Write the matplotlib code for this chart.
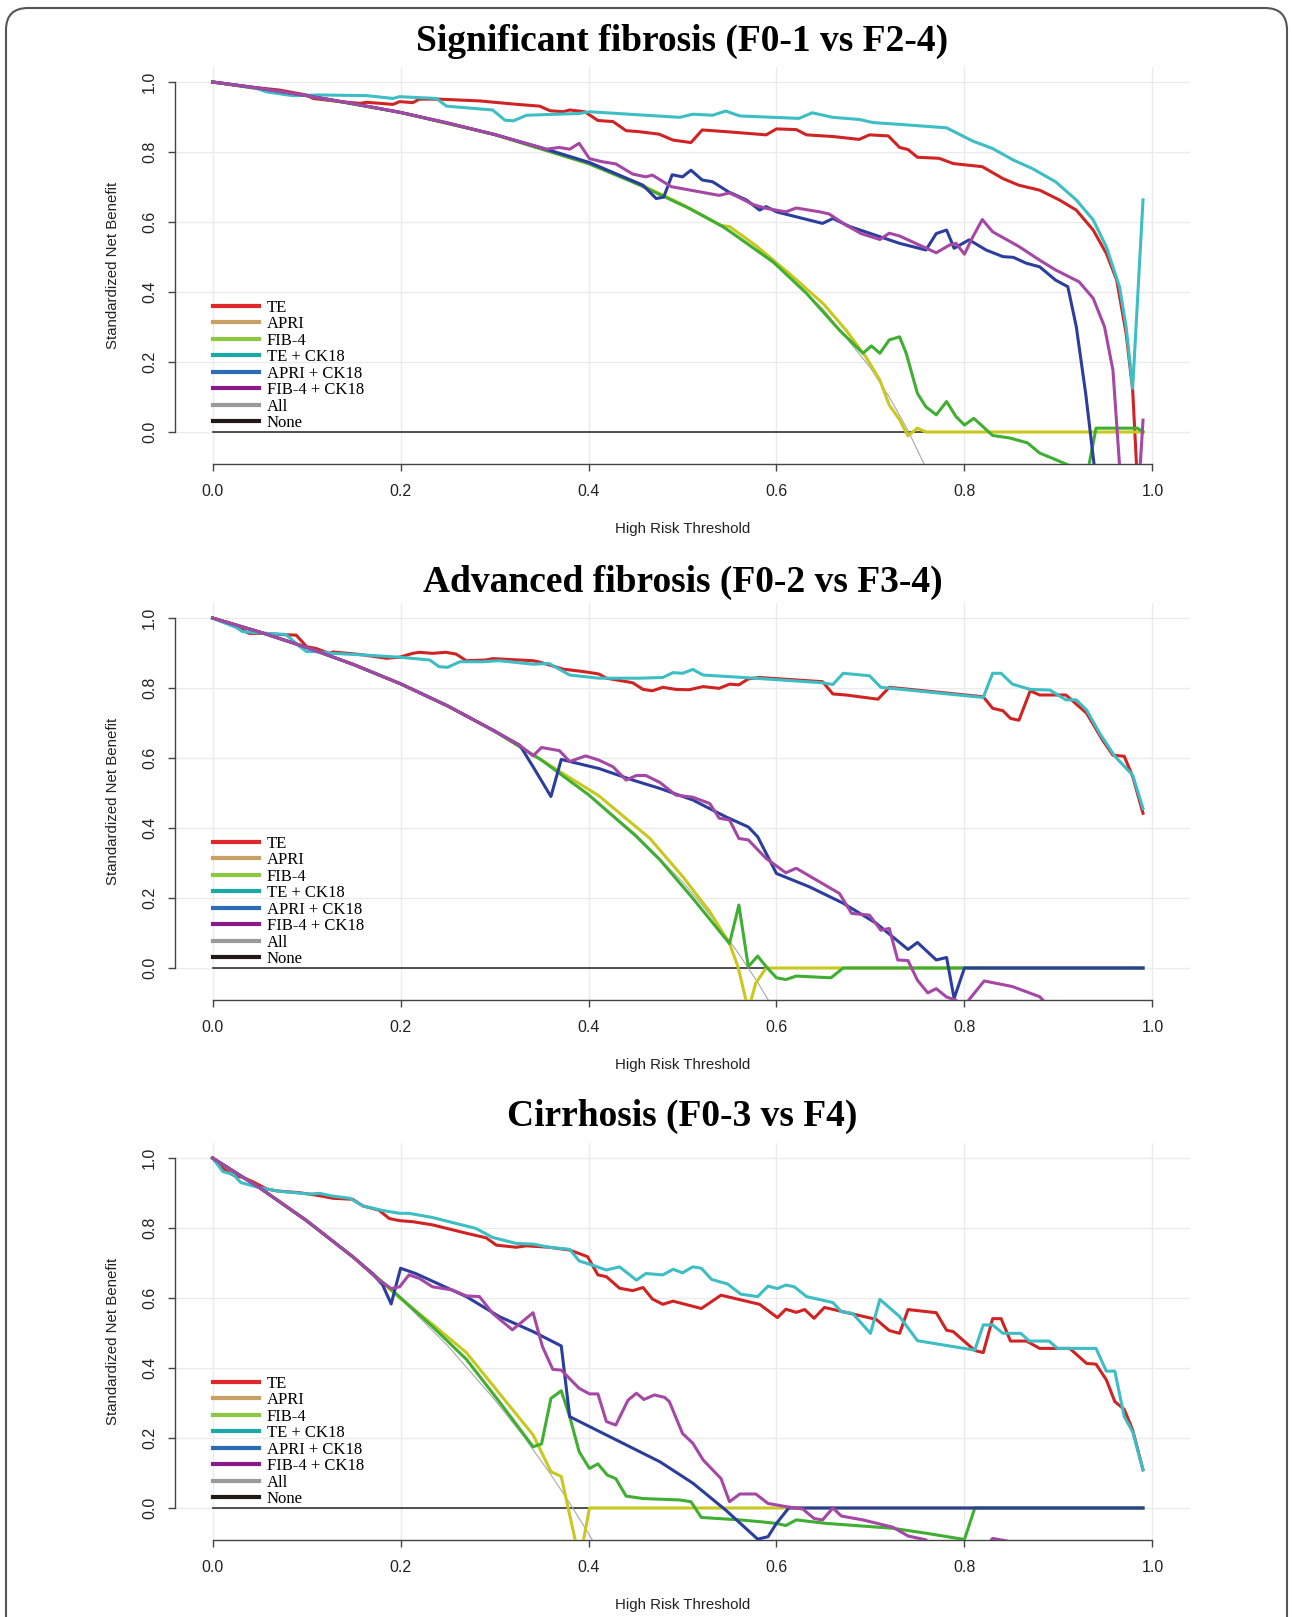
import matplotlib
matplotlib.use("Agg")
import matplotlib.pyplot as plt
from matplotlib.lines import Line2D
from matplotlib.patches import FancyBboxPatch
from matplotlib.transforms import IdentityTransform
from matplotlib.font_manager import FontProperties

# ---------------- DATA ----------------
titles = ["Significant fibrosis (F0-1 vs F2-4)",
          "Advanced fibrosis (F0-2 vs F3-4)",
          "Cirrhosis (F0-3 vs F4)"]
series_names = ["TE", "APRI", "FIB-4", "TE + CK18", "APRI + CK18", "FIB-4 + CK18", "All", "None"]
tick_vals = [0.0, 0.2, 0.4, 0.6, 0.8, 1.0]
tick_labels = ["0.0", "0.2", "0.4", "0.6", "0.8", "1.0"]
none_x = [0.0, 0.99]
none_y = [0.0, 0.0]

# Panel 1
p1_all_x = [0, 0.05, 0.1, 0.15, 0.2, 0.25, 0.3, 0.35, 0.4, 0.45, 0.5, 0.55, 0.6, 0.65, 0.7, 0.72, 0.74, 0.76]
p1_all_y = [1, 0.982, 0.961, 0.938, 0.913, 0.883, 0.85, 0.812, 0.767, 0.714, 0.65, 0.572, 0.475, 0.35, 0.183, 0.10, 0.004, -0.108]
p1_te_x = [0, 0.02, 0.046, 0.071, 0.0996, 0.107, 0.135, 0.157, 0.164, 0.192, 0.199, 0.213, 0.220, 0.241, 0.284, 0.32, 0.348, 0.359, 0.373, 0.38, 0.396, 0.41, 0.426, 0.44, 0.454, 0.475, 0.490, 0.509, 0.521, 0.547, 0.589, 0.600, 0.621, 0.632, 0.661, 0.688, 0.699, 0.719, 0.731, 0.740, 0.750, 0.773, 0.788, 0.819, 0.841, 0.858, 0.880, 0.901, 0.919, 0.937, 0.951, 0.962, 0.972, 0.979, 0.983, 0.99]
p1_te_y = [1.0, 0.993, 0.984, 0.977, 0.963, 0.953, 0.944, 0.939, 0.942, 0.936, 0.944, 0.941, 0.951, 0.951, 0.946, 0.937, 0.931, 0.918, 0.915, 0.920, 0.915, 0.89, 0.887, 0.861, 0.858, 0.851, 0.834, 0.827, 0.863, 0.858, 0.849, 0.866, 0.864, 0.849, 0.844, 0.836, 0.849, 0.846, 0.813, 0.807, 0.785, 0.782, 0.767, 0.758, 0.724, 0.705, 0.691, 0.663, 0.634, 0.577, 0.510, 0.434, 0.282, 0.120, -0.09, -0.5]
p1_apri_x = [0, 0.1, 0.2, 0.3, 0.4, 0.45, 0.5, 0.541, 0.550, 0.578, 0.614, 0.650, 0.674, 0.695, 0.710, 0.720, 0.731, 0.740, 0.750, 0.759, 0.99]
p1_apri_y = [1.0, 0.961, 0.913, 0.85, 0.767, 0.714, 0.65, 0.590, 0.587, 0.533, 0.452, 0.366, 0.291, 0.215, 0.148, 0.077, 0.035, -0.011, 0.011, 0.0, 0.0]
p1_fib_x = [0, 0.1, 0.2, 0.3, 0.4, 0.454, 0.507, 0.543, 0.596, 0.632, 0.667, 0.692, 0.701, 0.710, 0.720, 0.731, 0.738, 0.750, 0.759, 0.770, 0.781, 0.791, 0.800, 0.810, 0.830, 0.848, 0.867, 0.880, 0.897, 0.911, 0.92, 0.93, 0.94, 0.984, 0.99]
p1_fib_y = [1.0, 0.961, 0.913, 0.85, 0.767, 0.706, 0.639, 0.587, 0.487, 0.396, 0.291, 0.225, 0.246, 0.225, 0.263, 0.272, 0.225, 0.110, 0.072, 0.049, 0.087, 0.044, 0.020, 0.039, -0.010, -0.017, -0.031, -0.060, -0.079, -0.095, -0.13, -0.13, 0.011, 0.011, 0.0]
p1_teck_x = [0, 0.045, 0.057, 0.085, 0.114, 0.164, 0.192, 0.199, 0.238, 0.249, 0.298, 0.311, 0.32, 0.334, 0.390, 0.401, 0.497, 0.511, 0.532, 0.546, 0.561, 0.624, 0.638, 0.66, 0.688, 0.703, 0.731, 0.781, 0.809, 0.830, 0.852, 0.872, 0.897, 0.919, 0.937, 0.951, 0.965, 0.972, 0.979, 0.99]
p1_teck_y = [1.0, 0.984, 0.972, 0.961, 0.963, 0.961, 0.953, 0.958, 0.953, 0.931, 0.920, 0.891, 0.889, 0.905, 0.910, 0.915, 0.899, 0.908, 0.905, 0.917, 0.903, 0.896, 0.912, 0.899, 0.893, 0.884, 0.879, 0.869, 0.831, 0.810, 0.777, 0.753, 0.715, 0.663, 0.606, 0.529, 0.415, 0.301, 0.125, 0.663]
p1_aprick_x = [0, 0.05, 0.1, 0.15, 0.2, 0.25, 0.3, 0.35, 0.401, 0.458, 0.472, 0.480, 0.489, 0.500, 0.509, 0.521, 0.532, 0.549, 0.568, 0.582, 0.589, 0.6, 0.649, 0.66, 0.678, 0.731, 0.759, 0.770, 0.781, 0.789, 0.805, 0.823, 0.841, 0.852, 0.866, 0.880, 0.897, 0.910, 0.919, 0.929, 0.938, 0.95]
p1_aprick_y = [1.0, 0.982, 0.961, 0.938, 0.913, 0.883, 0.85, 0.812, 0.770, 0.705, 0.667, 0.671, 0.735, 0.729, 0.748, 0.720, 0.715, 0.686, 0.663, 0.634, 0.644, 0.629, 0.596, 0.610, 0.587, 0.539, 0.520, 0.567, 0.577, 0.525, 0.549, 0.520, 0.501, 0.499, 0.482, 0.472, 0.434, 0.415, 0.301, 0.110, -0.094, -0.3]
p1_fibck_x = [0, 0.05, 0.1, 0.15, 0.2, 0.25, 0.3, 0.355, 0.369, 0.38, 0.390, 0.401, 0.415, 0.429, 0.447, 0.461, 0.468, 0.488, 0.539, 0.550, 0.561, 0.575, 0.589, 0.61, 0.621, 0.646, 0.656, 0.674, 0.690, 0.710, 0.720, 0.731, 0.770, 0.784, 0.791, 0.800, 0.809, 0.819, 0.830, 0.858, 0.880, 0.897, 0.922, 0.937, 0.949, 0.958, 0.965, 0.98, 0.99]
p1_fibck_y = [1.0, 0.982, 0.961, 0.938, 0.913, 0.883, 0.85, 0.808, 0.813, 0.808, 0.825, 0.781, 0.772, 0.766, 0.737, 0.729, 0.734, 0.701, 0.676, 0.683, 0.669, 0.650, 0.639, 0.629, 0.640, 0.629, 0.623, 0.591, 0.567, 0.550, 0.568, 0.560, 0.512, 0.534, 0.539, 0.508, 0.558, 0.607, 0.572, 0.530, 0.491, 0.463, 0.429, 0.382, 0.301, 0.177, -0.094, -0.4, 0.034]

# Panel 2
p2_all_x = [0, 0.05, 0.1, 0.15, 0.2, 0.25, 0.3, 0.35, 0.4, 0.45, 0.5, 0.52, 0.54, 0.56, 0.58, 0.6]
p2_all_y = [1, 0.960, 0.916, 0.867, 0.812, 0.749, 0.677, 0.594, 0.497, 0.383, 0.246, 0.183, 0.115, 0.040, -0.041, -0.131]
p2_te_x = [0, 0.025, 0.039, 0.057, 0.071, 0.089, 0.100, 0.110, 0.124, 0.128, 0.156, 0.185, 0.199, 0.213, 0.220, 0.234, 0.248, 0.259, 0.270, 0.291, 0.298, 0.341, 0.348, 0.373, 0.397, 0.411, 0.419, 0.447, 0.458, 0.468, 0.479, 0.493, 0.507, 0.522, 0.539, 0.550, 0.560, 0.570, 0.582, 0.649, 0.660, 0.674, 0.708, 0.720, 0.820, 0.830, 0.841, 0.849, 0.858, 0.870, 0.880, 0.908, 0.930, 0.947, 0.958, 0.970, 0.979, 0.990]
p2_te_y = [1.0, 0.975, 0.956, 0.956, 0.953, 0.951, 0.918, 0.913, 0.899, 0.903, 0.896, 0.885, 0.888, 0.899, 0.902, 0.899, 0.902, 0.897, 0.878, 0.880, 0.884, 0.878, 0.874, 0.854, 0.846, 0.840, 0.828, 0.815, 0.796, 0.792, 0.802, 0.796, 0.795, 0.804, 0.799, 0.811, 0.809, 0.826, 0.830, 0.818, 0.783, 0.780, 0.768, 0.802, 0.775, 0.742, 0.735, 0.713, 0.708, 0.792, 0.780, 0.780, 0.728, 0.651, 0.608, 0.605, 0.547, 0.442]
p2_apri_x = [0, 0.05, 0.1, 0.15, 0.2, 0.25, 0.3, 0.35, 0.411, 0.465, 0.500, 0.529, 0.550, 0.559, 0.570, 0.578, 0.589, 0.99]
p2_apri_y = [1.0, 0.960, 0.916, 0.867, 0.812, 0.749, 0.677, 0.594, 0.492, 0.371, 0.262, 0.161, 0.070, 0.004, -0.12, -0.043, 0.0, 0.0]
p2_fib_x = [0, 0.05, 0.1, 0.15, 0.2, 0.25, 0.3, 0.35, 0.40, 0.45, 0.476, 0.511, 0.550, 0.560, 0.570, 0.580, 0.589, 0.600, 0.610, 0.621, 0.658, 0.671, 0.99]
p2_fib_y = [1.0, 0.960, 0.916, 0.867, 0.812, 0.749, 0.677, 0.594, 0.495, 0.378, 0.309, 0.199, 0.070, 0.180, 0.004, 0.034, 0.004, -0.028, -0.033, -0.023, -0.028, 0.0, 0.0]
p2_teck_x = [0, 0.025, 0.032, 0.057, 0.078, 0.092, 0.100, 0.110, 0.128, 0.163, 0.199, 0.231, 0.241, 0.250, 0.263, 0.287, 0.305, 0.341, 0.358, 0.380, 0.411, 0.454, 0.479, 0.490, 0.500, 0.511, 0.522, 0.565, 0.649, 0.660, 0.671, 0.699, 0.711, 0.820, 0.830, 0.839, 0.851, 0.870, 0.891, 0.908, 0.919, 0.930, 0.944, 0.960, 0.979, 0.990]
p2_teck_y = [1.0, 0.973, 0.961, 0.956, 0.953, 0.920, 0.904, 0.904, 0.899, 0.894, 0.888, 0.880, 0.861, 0.859, 0.875, 0.875, 0.878, 0.868, 0.870, 0.837, 0.828, 0.828, 0.830, 0.844, 0.842, 0.853, 0.837, 0.830, 0.815, 0.810, 0.842, 0.835, 0.802, 0.773, 0.842, 0.842, 0.811, 0.796, 0.794, 0.766, 0.766, 0.737, 0.670, 0.605, 0.551, 0.456]
p2_aprick_x = [0, 0.05, 0.1, 0.15, 0.2, 0.25, 0.3, 0.327, 0.341, 0.360, 0.371, 0.380, 0.411, 0.447, 0.476, 0.511, 0.546, 0.570, 0.580, 0.600, 0.635, 0.671, 0.706, 0.740, 0.750, 0.770, 0.781, 0.789, 0.800, 0.99]
p2_aprick_y = [1.0, 0.960, 0.916, 0.867, 0.812, 0.749, 0.677, 0.636, 0.575, 0.490, 0.596, 0.590, 0.570, 0.537, 0.513, 0.480, 0.432, 0.403, 0.375, 0.270, 0.232, 0.185, 0.128, 0.053, 0.073, 0.023, 0.030, -0.087, 0.0, 0.0]
p2_fibck_x = [0, 0.05, 0.1, 0.15, 0.2, 0.25, 0.3, 0.327, 0.341, 0.350, 0.369, 0.380, 0.397, 0.411, 0.426, 0.440, 0.451, 0.461, 0.476, 0.493, 0.511, 0.529, 0.539, 0.550, 0.560, 0.570, 0.589, 0.610, 0.621, 0.667, 0.680, 0.699, 0.711, 0.720, 0.729, 0.740, 0.750, 0.761, 0.770, 0.781, 0.791, 0.797, 0.805, 0.821, 0.851, 0.880, 0.89]
p2_fibck_y = [1.0, 0.960, 0.916, 0.867, 0.812, 0.749, 0.677, 0.636, 0.606, 0.630, 0.621, 0.590, 0.606, 0.594, 0.575, 0.537, 0.550, 0.550, 0.530, 0.494, 0.488, 0.470, 0.428, 0.423, 0.370, 0.366, 0.313, 0.272, 0.285, 0.213, 0.156, 0.151, 0.108, 0.113, 0.023, 0.021, -0.035, -0.071, -0.059, -0.083, -0.092, -0.12, -0.09, -0.037, -0.053, -0.082, -0.11]

# Panel 3
p3_all_x = [0, 0.05, 0.1, 0.15, 0.2, 0.25, 0.3, 0.33, 0.36, 0.38, 0.4, 0.42]
p3_all_y = [1, 0.915, 0.821, 0.716, 0.598, 0.464, 0.310, 0.208, 0.095, 0.014, -0.073, -0.165]
p3_te_x = [0, 0.011, 0.022, 0.032, 0.043, 0.057, 0.068, 0.092, 0.110, 0.128, 0.149, 0.160, 0.177, 0.188, 0.199, 0.213, 0.234, 0.270, 0.291, 0.302, 0.323, 0.334, 0.358, 0.380, 0.399, 0.410, 0.419, 0.433, 0.447, 0.458, 0.468, 0.479, 0.490, 0.520, 0.541, 0.582, 0.601, 0.610, 0.621, 0.630, 0.640, 0.651, 0.706, 0.720, 0.731, 0.740, 0.770, 0.781, 0.788, 0.811, 0.820, 0.830, 0.839, 0.849, 0.866, 0.880, 0.912, 0.930, 0.940, 0.951, 0.960, 0.970, 0.979, 0.990]
p3_te_y = [1.0, 0.970, 0.951, 0.945, 0.932, 0.912, 0.906, 0.901, 0.894, 0.885, 0.882, 0.863, 0.851, 0.827, 0.821, 0.818, 0.809, 0.785, 0.772, 0.751, 0.745, 0.749, 0.745, 0.737, 0.718, 0.666, 0.661, 0.628, 0.621, 0.630, 0.597, 0.582, 0.591, 0.570, 0.608, 0.582, 0.544, 0.568, 0.559, 0.567, 0.542, 0.573, 0.539, 0.507, 0.499, 0.567, 0.558, 0.508, 0.504, 0.450, 0.444, 0.541, 0.541, 0.477, 0.477, 0.456, 0.456, 0.413, 0.411, 0.366, 0.304, 0.282, 0.223, 0.109]
p3_apri_x = [0, 0.05, 0.1, 0.15, 0.2, 0.234, 0.270, 0.305, 0.341, 0.360, 0.371, 0.378, 0.389, 0.392, 0.401, 0.99]
p3_apri_y = [1.0, 0.915, 0.821, 0.716, 0.598, 0.525, 0.444, 0.328, 0.209, 0.104, 0.090, 0.004, -0.13, -0.13, 0.0, 0.0]
p3_fib_x = [0, 0.05, 0.1, 0.15, 0.192, 0.234, 0.270, 0.305, 0.341, 0.350, 0.360, 0.371, 0.380, 0.390, 0.401, 0.410, 0.420, 0.429, 0.440, 0.458, 0.497, 0.509, 0.520, 0.561, 0.582, 0.600, 0.610, 0.621, 0.653, 0.724, 0.759, 0.800, 0.811, 0.99]
p3_fib_y = [1.0, 0.915, 0.821, 0.716, 0.620, 0.518, 0.425, 0.304, 0.175, 0.183, 0.313, 0.335, 0.261, 0.161, 0.113, 0.126, 0.094, 0.084, 0.034, 0.027, 0.023, 0.018, -0.027, -0.034, -0.039, -0.044, -0.050, -0.034, -0.044, -0.058, -0.072, -0.090, 0.0, 0.0]
p3_teck_x = [0, 0.011, 0.022, 0.030, 0.050, 0.071, 0.103, 0.114, 0.128, 0.146, 0.160, 0.181, 0.199, 0.209, 0.234, 0.259, 0.280, 0.298, 0.323, 0.341, 0.358, 0.380, 0.390, 0.404, 0.419, 0.433, 0.451, 0.461, 0.479, 0.490, 0.500, 0.511, 0.520, 0.531, 0.548, 0.562, 0.580, 0.591, 0.601, 0.610, 0.619, 0.632, 0.660, 0.669, 0.681, 0.700, 0.710, 0.731, 0.750, 0.811, 0.820, 0.830, 0.841, 0.860, 0.869, 0.890, 0.899, 0.940, 0.951, 0.960, 0.970, 0.979, 0.990]
p3_teck_y = [1.0, 0.961, 0.953, 0.930, 0.915, 0.905, 0.897, 0.899, 0.891, 0.885, 0.863, 0.850, 0.842, 0.842, 0.830, 0.813, 0.799, 0.773, 0.756, 0.754, 0.745, 0.739, 0.706, 0.694, 0.680, 0.689, 0.651, 0.670, 0.666, 0.682, 0.672, 0.689, 0.685, 0.653, 0.640, 0.611, 0.604, 0.634, 0.627, 0.637, 0.632, 0.604, 0.587, 0.561, 0.556, 0.499, 0.596, 0.547, 0.478, 0.451, 0.523, 0.523, 0.499, 0.499, 0.477, 0.477, 0.456, 0.456, 0.391, 0.391, 0.261, 0.218, 0.109]
p3_aprick_x = [0, 0.05, 0.1, 0.15, 0.170, 0.181, 0.190, 0.200, 0.216, 0.270, 0.305, 0.341, 0.371, 0.380, 0.476, 0.511, 0.546, 0.580, 0.591, 0.600, 0.613, 0.99]
p3_aprick_y = [1.0, 0.915, 0.821, 0.716, 0.670, 0.637, 0.583, 0.685, 0.670, 0.604, 0.547, 0.504, 0.463, 0.261, 0.132, 0.071, -0.006, -0.089, -0.082, -0.044, 0.0, 0.0]
p3_fibck_x = [0, 0.05, 0.1, 0.15, 0.177, 0.190, 0.199, 0.209, 0.220, 0.234, 0.255, 0.270, 0.284, 0.298, 0.319, 0.341, 0.351, 0.362, 0.371, 0.390, 0.401, 0.410, 0.419, 0.429, 0.442, 0.451, 0.459, 0.470, 0.481, 0.486, 0.500, 0.511, 0.522, 0.541, 0.550, 0.561, 0.578, 0.591, 0.610, 0.628, 0.640, 0.649, 0.660, 0.669, 0.692, 0.724, 0.740, 0.759, 0.77, 0.82, 0.830, 0.845, 0.85]
p3_fibck_y = [1.0, 0.915, 0.821, 0.716, 0.651, 0.627, 0.632, 0.666, 0.656, 0.632, 0.623, 0.606, 0.604, 0.556, 0.509, 0.558, 0.461, 0.396, 0.394, 0.342, 0.326, 0.326, 0.247, 0.237, 0.308, 0.328, 0.310, 0.323, 0.316, 0.304, 0.213, 0.185, 0.137, 0.084, 0.018, 0.040, 0.040, 0.013, 0.004, -0.003, -0.030, -0.034, 0.0, -0.023, -0.034, -0.055, -0.080, -0.091, -0.12, -0.12, -0.087, -0.094, -0.12]

# ---------------- STYLE ----------------
curve_colors = ["#d02424", "#c8c81e", "#3fae32", "#3dbdc4", "#2b3e9e", "#a548a5"]
legend_colors = ["#e02828", "#c8a064", "#8dc641", "#1aa9a6", "#2a6db5", "#8b1a89", "#9a9a9a", "#231916"]
all_color = "#a8a8a8"
none_color = "#333333"

panels = [
    dict(title=titles[0], all=(p1_all_x, p1_all_y),
         series=[(p1_te_x, p1_te_y), (p1_apri_x, p1_apri_y), (p1_fib_x, p1_fib_y),
                 (p1_teck_x, p1_teck_y), (p1_aprick_x, p1_aprick_y), (p1_fibck_x, p1_fibck_y)]),
    dict(title=titles[1], all=(p2_all_x, p2_all_y),
         series=[(p2_te_x, p2_te_y), (p2_apri_x, p2_apri_y), (p2_fib_x, p2_fib_y),
                 (p2_teck_x, p2_teck_y), (p2_aprick_x, p2_aprick_y), (p2_fibck_x, p2_fibck_y)]),
    dict(title=titles[2], all=(p3_all_x, p3_all_y),
         series=[(p3_te_x, p3_te_y), (p3_apri_x, p3_apri_y), (p3_fib_x, p3_fib_y),
                 (p3_teck_x, p3_teck_y), (p3_aprick_x, p3_aprick_y), (p3_fibck_x, p3_fibck_y)]),
]

W, H = 1292, 1617
fig = plt.figure(figsize=(W / 100, H / 100), dpi=100)
fig.patch.set_facecolor("white")

sans = ["Liberation Sans Narrow", "Liberation Sans", "DejaVu Sans"]
serif = ["Liberation Serif", "DejaVu Serif"]

zero_rows = [432, 968, 1508]
title_offsets = [0.065, 0.053, 0.068]
unit = 350.0
ymin, ymax = -0.092, 1.042
left_px = 175
width_px = 1015

for i, p in enumerate(panels):
    z = zero_rows[i]
    top_px = z - ymax * unit
    bot_px = z - ymin * unit
    ax = fig.add_axes([left_px / W, 1 - bot_px / H, width_px / W, (bot_px - top_px) / H])
    ax.set_xlim(-0.04, 1.04)
    ax.set_ylim(ymin, ymax)
    ax.set_axisbelow(True)
    ax.grid(True, color="#ebebeb", lw=1.0)

    ax.plot(none_x, none_y, color=none_color, lw=1.2, zorder=2)
    ax.plot(p["all"][0], p["all"][1], color=all_color, lw=0.8, zorder=2)
    for (xs, ys), c in zip(p["series"], curve_colors):
        ax.plot(xs, ys, color=c, lw=2.2, zorder=3, solid_joinstyle="round")

    for s in ["top", "right"]:
        ax.spines[s].set_visible(False)
    ax.spines["left"].set_bounds(0, 1)
    ax.spines["bottom"].set_bounds(0, 1)
    for s in ["left", "bottom"]:
        ax.spines[s].set_color("#444444")
        ax.spines[s].set_linewidth(1.0)

    ax.set_xticks(tick_vals)
    ax.set_xticklabels(tick_labels)
    ax.set_yticks(tick_vals)
    ax.set_yticklabels(tick_labels)
    ax.tick_params(axis="both", length=5, width=1.0, color="#444444", labelcolor="#222222", labelsize=11.5)
    ax.tick_params(axis="x", pad=9)
    ax.tick_params(axis="y", pad=8, labelrotation=90)
    for lab in ax.get_xticklabels() + ax.get_yticklabels():
        lab.set_family(sans)
    for lab in ax.get_yticklabels():
        lab.set_va("center")

    ax.set_xlabel("High Risk Threshold", family=sans, fontsize=10.8, color="#222222")
    ax.xaxis.label.set_va("center")
    ax.xaxis.set_label_coords(0.5, -(529 - 464.2) / (bot_px - top_px))
    ax.set_ylabel("Standardized Net Benefit", family=sans, fontsize=10.8, color="#222222")
    ax.yaxis.label.set_va("center")
    ax.yaxis.set_label_coords((113 - left_px) / width_px, 0.5)

    ax.text(0.5, 1 + title_offsets[i], p["title"], transform=ax.transAxes,
            ha="center", va="center", family=serif, fontweight="bold", fontsize=27)

    handles = [Line2D([], [], color=c, lw=3) for c in legend_colors]
    ax.legend(handles, series_names, loc="upper left", bbox_to_anchor=(0.0, 0.378),
              bbox_transform=ax.transData, frameon=False, borderpad=0, borderaxespad=0,
              handlelength=2.8, handletextpad=0.45, labelspacing=0.03,
              prop=FontProperties(family=serif, size=12))

frame = FancyBboxPatch((6, -60), 1281, H - 8 + 60, boxstyle="round,pad=0,rounding_size=22",
                       transform=IdentityTransform(), fill=False, ec="#555555", lw=1.5)
fig.patches.append(frame)

fig.savefig("out.png", dpi=100, facecolor="white")
